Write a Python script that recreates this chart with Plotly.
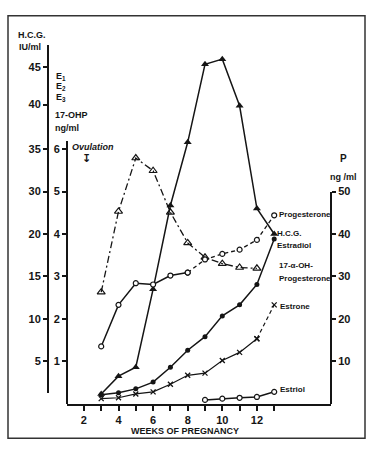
import plotly.graph_objects as go

W, H = 375, 458
def px(x): return x / W
def py(y): return 1 - y / H

# ---------------- data ----------------
weeks = [3, 4, 5, 6, 7, 8, 9, 10, 11, 12, 13]
# hCG in grid units of the H.C.G. axis (tick 5 IU/ml = 1 ... tick 45 IU/ml = 7.93)
hcg = [0.23, 0.65, 0.86, 2.70, 4.67, 6.16, 8.00, 8.12, 7.02, 4.60, 4.00]
estradiol = [0.21, 0.26, 0.35, 0.51, 0.86, 1.26, 1.58, 2.07, 2.33, 2.81, 3.88]
estrone = [0.12, 0.14, 0.23, 0.28, 0.46, 0.67, 0.72, 1.02, 1.21, 1.53, 2.33]
estriol_weeks = [9, 10, 11, 12, 13]
estriol = [0.09, 0.12, 0.14, 0.16, 0.28]
ohp_weeks = [3, 4, 5, 6, 7, 8, 9, 10, 11, 12]
ohp = [2.63, 4.53, 5.79, 5.49, 4.51, 3.79, 3.45, 3.30, 3.21, 3.19]
progesterone = [13.5, 23.3, 28.4, 28.1, 30.2, 30.9, 34.0, 35.3, 36.3, 38.6, 44.4]

x_tick_vals = [2, 4, 6, 8, 10, 12]
x_minor_vals = [1, 3, 5, 7, 9, 11, 13]
ng_tick_vals = [1, 2, 3, 4, 5, 6]
hcg_tick_vals = [1, 2, 3, 4, 5, 6, 7.05, 7.93]
hcg_tick_text = ["5", "10", "15", "20", "30", "35", "40", "45"]
p_tick_vals = [10, 20, 30, 40, 50]

INK = "#151515"
LW = 1.5
tickfont = dict(family="Liberation Sans, Arial", size=11, color=INK, weight="bold")
labfont = dict(family="Liberation Sans, Arial", size=8, color=INK, weight="bold")

fig = go.Figure()

# hCG (main invisible y axis in grid units)
fig.add_trace(go.Scatter(x=weeks, y=hcg, mode="lines+markers", yaxis="y",
                         line=dict(color=INK, width=LW),
                         marker=dict(symbol="triangle-up", size=7, color=INK)))
# Estradiol
fig.add_trace(go.Scatter(x=weeks, y=estradiol, mode="lines+markers", yaxis="y2",
                         line=dict(color=INK, width=LW),
                         marker=dict(symbol="circle", size=5, color=INK)))
# Estrone
fig.add_trace(go.Scatter(x=weeks[:-1], y=estrone[:-1], mode="lines+markers", yaxis="y2",
                         line=dict(color=INK, width=1.2),
                         marker=dict(symbol="x-thin", size=5, line=dict(width=1.3, color=INK))))
fig.add_trace(go.Scatter(x=weeks[-2:], y=estrone[-2:], mode="lines+markers", yaxis="y2",
                         line=dict(color=INK, width=1.2, dash="4px,3px"),
                         marker=dict(symbol="x-thin", size=5, line=dict(width=1.3, color=INK))))
# Estriol
fig.add_trace(go.Scatter(x=estriol_weeks, y=estriol, mode="lines+markers", yaxis="y2",
                         line=dict(color=INK, width=LW),
                         marker=dict(symbol="circle", size=5, color="white",
                                     line=dict(width=1.2, color=INK))))
# 17-OH-Progesterone
fig.add_trace(go.Scatter(x=ohp_weeks, y=ohp, mode="lines+markers", yaxis="y2",
                         line=dict(color=INK, width=1.3, dash="7px,3px,2px,3px"),
                         marker=dict(symbol="triangle-up-open", size=7,
                                     line=dict(width=1.2, color=INK))))
# Progesterone (solid then dashed)
fig.add_trace(go.Scatter(x=weeks[:6], y=progesterone[:6], mode="lines+markers", yaxis="y4",
                         line=dict(color=INK, width=LW),
                         marker=dict(symbol="circle", size=5, color="white",
                                     line=dict(width=1.2, color=INK))))
fig.add_trace(go.Scatter(x=weeks[5:], y=progesterone[5:], mode="lines+markers", yaxis="y4",
                         line=dict(color=INK, width=1.3, dash="4px,3px"),
                         marker=dict(symbol="circle", size=5, color="white",
                                     line=dict(width=1.2, color=INK))))
# dummy for the H.C.G. axis
fig.add_trace(go.Scatter(x=[None], y=[None], yaxis="y3", hoverinfo="skip"))

XL, XR = 67, 331
x0 = 4 - (118.5 - XL) / 17.3
x1 = 4 + (XR - 118.5) / 17.3
Y0 = 403
U = 43.0

axis_common = dict(showgrid=False, zeroline=False, showline=True, linecolor=INK,
                   linewidth=2, ticks="outside", tickcolor=INK, tickwidth=1.5,
                   ticklen=4, tickfont=tickfont)

fig.update_layout(
    width=W, height=H, margin=dict(l=0, r=0, t=0, b=0),
    paper_bgcolor="white", plot_bgcolor="rgba(0,0,0,0)", showlegend=False,
    xaxis=dict(domain=[px(XL), px(XR)], range=[x0, x1], anchor="y",
               tickmode="array", tickvals=x_tick_vals,
               minor=dict(tickmode="array", tickvals=x_minor_vals, ticks="outside",
                          ticklen=5, tickwidth=1.5, tickcolor=INK, showgrid=False),
               **{**axis_common, "ticklen": 5}),
    yaxis=dict(domain=[py(Y0), py(40)], range=[0, (Y0 - 40) / U], visible=False),
    yaxis2=dict(domain=[py(Y0), py(137)], range=[0, (Y0 - 137) / U], anchor="free",
                position=px(XL), side="left", tickmode="array", tickvals=ng_tick_vals,
                **axis_common),
    yaxis3=dict(domain=[py(392), py(40)], range=[(Y0 - 392) / U, (Y0 - 40) / U],
                anchor="free", position=px(48), side="left", tickmode="array",
                tickvals=hcg_tick_vals, ticktext=hcg_tick_text, **axis_common),
    yaxis4=dict(domain=[py(Y0), py(188)], range=[0, (Y0 - 188) / U * 10], anchor="free",
                position=px(XR), side="right", tickmode="array", tickvals=p_tick_vals,
                **axis_common),
)

# frame
fig.add_shape(type="rect", xref="paper", yref="paper", x0=px(8), x1=px(365),
              y0=py(438), y1=py(10), line=dict(color="#333", width=1.5))

def note(text, x, y, xanchor="left", font=labfont, **kw):
    fig.add_annotation(text=text, xref="paper", yref="paper", x=px(x), y=py(y),
                       xanchor=xanchor, yanchor="middle", showarrow=False,
                       font=font, align="left", **kw)

small = dict(family="Liberation Sans, Arial", size=9, color=INK, weight="bold")
note("H.C.G.", 16, 29, font=small)
note("IU/ml", 17, 42, font=small)
note("E<sub>1</sub>", 54, 71, font=small)
note("E<sub>2</sub>", 54, 82, font=small)
note("E<sub>3</sub>", 54, 93, font=small)
note("17-OHP", 53, 110, font=small)
note("ng/ml", 53, 124, font=small)
note("<i>Ovulation</i>", 70, 143, font=small)
note("↧", 86, 155, xanchor="center",
     font=dict(family="DejaVu Sans", size=11, color=INK, weight="bold"))
note("P", 343, 155, xanchor="center", font=dict(family="Liberation Sans, Arial", size=10, color=INK, weight="bold"))
note("ng /ml", 343, 173, xanchor="center", font=small)
note("Progesterone", 277, 211)
note("H.C.G.", 275, 231)
note("Estradiol", 275, 243)
note("17-α-OH-", 277, 263)
note("Progesterone", 277, 276)
note("Estrone", 278, 304)
note("Estriol", 278, 389)
note("WEEKS OF PREGNANCY", 185, 431, xanchor="center", font=small)

fig.write_html("out.html", config={"displayModeBar": False},
               post_script="document.body.style.margin='0';document.body.style.overflow='hidden';")
